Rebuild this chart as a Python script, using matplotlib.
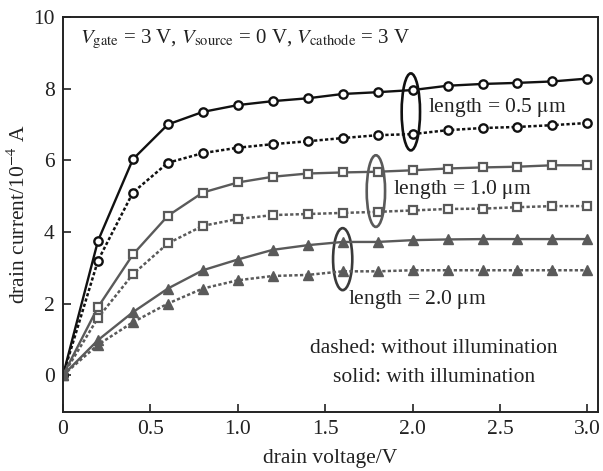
import matplotlib
matplotlib.use("Agg")
import matplotlib.pyplot as plt
from matplotlib.patches import Ellipse

plt.rcParams['font.family'] = ['Liberation Serif', 'DejaVu Serif']
plt.rcParams['mathtext.fontset'] = 'stix'

# drain voltage sweep
vd = [0, 0.2, 0.4, 0.6, 0.8, 1.0, 1.2, 1.4, 1.6, 1.8, 2.0, 2.2, 2.4, 2.6, 2.8, 3.0]

# drain current (1e-4 A); solid = with illumination, dashed = without
l05_light = [0, 3.75, 6.03, 7.0, 7.35, 7.54, 7.65, 7.73, 7.85, 7.9, 7.96, 8.08, 8.13, 8.16, 8.2, 8.28]
l05_dark = [0, 3.2, 5.1, 5.93, 6.2, 6.35, 6.45, 6.53, 6.62, 6.7, 6.73, 6.84, 6.9, 6.93, 6.98, 7.04]
l10_light = [0, 1.9, 3.37, 4.45, 5.1, 5.38, 5.54, 5.63, 5.66, 5.68, 5.72, 5.77, 5.8, 5.82, 5.86, 5.86]
l10_dark = [0, 1.6, 2.82, 3.68, 4.17, 4.36, 4.47, 4.5, 4.53, 4.56, 4.6, 4.64, 4.65, 4.69, 4.72, 4.72]
l20_light = [0, 0.98, 1.76, 2.42, 2.93, 3.23, 3.5, 3.63, 3.72, 3.72, 3.77, 3.79, 3.8, 3.8, 3.8, 3.8]
l20_dark = [0, 0.85, 1.48, 2.0, 2.42, 2.65, 2.77, 2.8, 2.9, 2.9, 2.93, 2.93, 2.93, 2.93, 2.93, 2.93]

fig = plt.figure(figsize=(6.03, 4.71), dpi=100)
ax = fig.add_axes([0.1045, 0.125, 0.887, 0.839])

black = '#111111'
gray = '#5a5a5a'
dots = (0, (1.3, 0.9))

ax.plot(vd, l05_light, '-', color=black, lw=1.7, marker='o', ms=6, mfc='white', mew=1.7)
ax.plot(vd, l05_dark, linestyle=dots, color=black, lw=1.8, marker='o', ms=6, mfc='white', mew=1.7)
ax.plot(vd, l10_light, '-', color=gray, lw=1.7, marker='s', ms=6, mfc='white', mew=1.6)
ax.plot(vd, l10_dark, linestyle=dots, color=gray, lw=1.8, marker='s', ms=6, mfc='white', mew=1.6)
ax.plot(vd, l20_light, '-', color=gray, lw=1.7, marker='^', ms=6.5, mfc=gray, mew=1)
ax.plot(vd, l20_dark, linestyle=dots, color=gray, lw=1.8, marker='^', ms=6.5, mfc=gray, mew=1)

# groups marked with ellipses
ax.add_patch(Ellipse((1.99, 7.35), 0.105, 2.15, fill=False, ec=black, lw=1.9))
ax.add_patch(Ellipse((1.79, 5.14), 0.105, 2.0, fill=False, ec=gray, lw=1.9))
ax.add_patch(Ellipse((1.60, 3.24), 0.11, 1.73, fill=False, ec='#3a3a3a', lw=1.9))

fs = 15.5
tc = '#222222'
ax.text(2.09, 7.46, r'length = 0.5 $\mathrm{\mu}$m', fontsize=fs, va='center', color=tc)
ax.text(1.89, 5.17, r'length = 1.0 $\mathrm{\mu}$m', fontsize=fs, va='center', color=tc)
ax.text(1.63, 2.1, r'length = 2.0 $\mathrm{\mu}$m', fontsize=fs, va='center', color=tc)
ax.text(2.12, 0.75, 'dashed: without illumination', fontsize=fs, ha='center', va='center', color=tc)
ax.text(2.12, -0.05, 'solid: with illumination', fontsize=fs, ha='center', va='center', color=tc)
ax.text(0.095, 9.36, r'$V_{\mathrm{gate}}$ = 3 V, $V_{\mathrm{source}}$ = 0 V, $V_{\mathrm{cathode}}$ = 3 V',
        fontsize=15, va='center', color=tc)

ax.set_xlim(0, 3.06)
ax.set_ylim(-1.03, 10)
ax.set_xticks([0, 0.5, 1.0, 1.5, 2.0, 2.5, 3.0])
ax.set_xticklabels(['0', '0.5', '1.0', '1.5', '2.0', '2.5', '3.0'])
ax.set_yticks([0, 2, 4, 6, 8, 10])
ax.tick_params(direction='in', length=6, width=1.2, labelsize=fs, colors=tc, pad=6)
for s in ax.spines.values():
    s.set_linewidth(1.4)
    s.set_color(tc)

ax.set_xlabel('drain voltage/V', fontsize=fs, color=tc, labelpad=7)
ax.set_ylabel(r'drain current/10$^{-4}$ A', fontsize=fs, color=tc, labelpad=2)

fig.savefig('out.png', dpi=100)
